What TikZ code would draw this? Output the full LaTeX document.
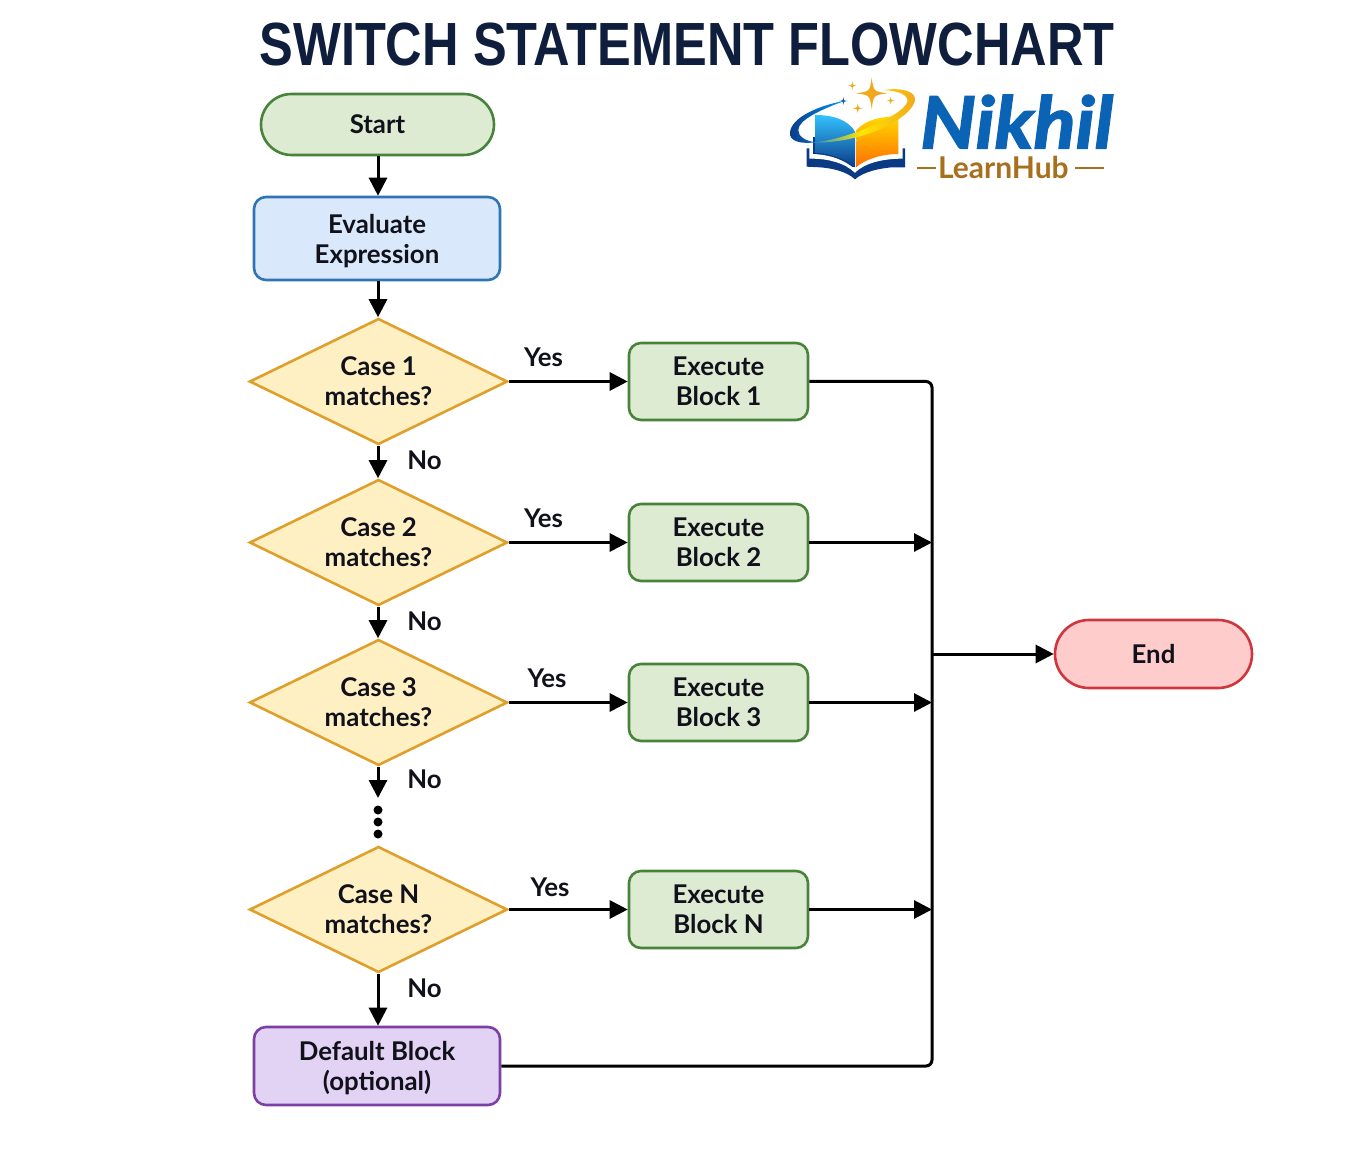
\documentclass[tikz,border=0pt]{standalone}
\usepackage{fontspec}
\usetikzlibrary{arrows.meta,shapes.geometric,shapes.misc}
\setmainfont{Lato}
\newfontfamily\titlefont[FakeStretch=0.829]{Liberation Sans}
\newfontfamily\nikfont[FakeBold=2.2,FakeStretch=1.08]{Lato}
\definecolor{ink}{HTML}{10111A}
\definecolor{titleink}{HTML}{0E1E3C}
\definecolor{greenfill}{HTML}{DDEBD3}
\definecolor{greenline}{HTML}{47843A}
\definecolor{bluefill}{HTML}{DAE8FC}
\definecolor{blueline}{HTML}{2E75B6}
\definecolor{yellowfill}{HTML}{FFF0C4}
\definecolor{yellowline}{HTML}{DF9F2B}
\definecolor{purplefill}{HTML}{E2D3F4}
\definecolor{purpleline}{HTML}{7B3FA5}
\definecolor{redfill}{HTML}{FFCCCC}
\definecolor{redline}{HTML}{D0343C}
\definecolor{logoblue}{HTML}{0B63B5}
\definecolor{logodark}{HTML}{0B3A85}
\definecolor{logogold}{HTML}{F2A81D}
\definecolor{logobrown}{HTML}{A8701E}
\tikzset{
  base/.style={draw,line width=1.3pt,inner sep=0pt,align=center,text=ink,
    font=\fontsize{12.9}{15}\selectfont\bfseries},
  pill/.style={base,rounded rectangle},
  startnode/.style={pill,fill=greenfill,draw=greenline,minimum width=116.5pt,minimum height=30.5pt},
  endnode/.style={pill,fill=redfill,draw=redline,minimum width=98.5pt,minimum height=34pt},
  evalbox/.style={base,rounded corners=6pt,fill=bluefill,draw=blueline,minimum width=123pt,minimum height=41.5pt},
  execbox/.style={base,rounded corners=6pt,fill=greenfill,draw=greenline,minimum width=89.5pt,minimum height=38.5pt},
  defbox/.style={base,rounded corners=6pt,fill=purplefill,draw=purpleline,minimum width=123pt,minimum height=39pt},
  casenode/.style={base,diamond,shape aspect=2,fill=yellowfill,draw=yellowline,minimum width=129pt,minimum height=63pt},
  lbl/.style={inner sep=0pt,text=ink,font=\fontsize{12.9}{15}\selectfont\bfseries},
  conn/.style={line width=1.5pt,draw=black},
  arr/.style={conn,-{Triangle[length=9pt,width=9pt]}},
  dotmark/.style={circle,fill=black,inner sep=0pt,minimum size=4.5pt},
}
\newcommand{\lgstar}[4]{\fill[#4] (#1,#2-#3) .. controls (#1+.12*#3,#2-.12*#3) .. (#1+#3,#2) .. controls (#1+.12*#3,#2+.12*#3) .. (#1,#2+#3) .. controls (#1-.12*#3,#2+.12*#3) .. (#1-#3,#2) .. controls (#1-.12*#3,#2-.12*#3) .. cycle;}
\begin{document}
\begin{tikzpicture}[x=0.5pt,y=-0.5pt]
\useasboundingbox (0,0) rectangle (1369,1149);
\fill[white] (0,0) rectangle (1369,1149);
\node[inner sep=0pt,text=titleink,font=\titlefont\fontsize{30.5}{34}\selectfont\bfseries] (title) at (687,45) {SWITCH STATEMENT FLOWCHART};
% nodes
\node[startnode] (start) at (377.5,124.5) {Start};
\node[evalbox] (eval) at (377,238.5) {\rule{0pt}{12.2pt}Evaluate\\Expression};
\node[casenode] (c1) at (378.5,381.5) {Case 1\\matches?};
\node[casenode] (c2) at (378.5,542.5) {Case 2\\matches?};
\node[casenode] (c3) at (378.5,702.5) {Case 3\\matches?};
\node[casenode] (cn) at (378.5,909.5) {Case N\\matches?};
\node[execbox] (x1) at (718.5,381.5) {Execute\\Block 1};
\node[execbox] (x2) at (718.5,542.5) {Execute\\Block 2};
\node[execbox] (x3) at (718.5,702.5) {Execute\\Block 3};
\node[execbox] (xn) at (718.5,909.5) {Execute\\Block N};
\node[defbox] (def) at (377,1066) {\rule{0pt}{11.2pt}Default Block\\(optional)};
\node[endnode] (end) at (1153.5,654) {End};
\node[dotmark] (d1) at (378,810) {};
\node[dotmark] (d2) at (378,822) {};
\node[dotmark] (d3) at (378,834) {};
\coordinate (bus) at (932,654);
\coordinate (dotstop) at (378,798);
% connectors
\draw[arr] (start.south -| dotstop) -- (eval.north -| dotstop);
\draw[arr] (eval.south -| dotstop) -- (c1.north -| dotstop);
\draw[arr] (c1.south -| dotstop) -- (c2.north -| dotstop);
\draw[arr] (c2.south -| dotstop) -- (c3.north -| dotstop);
\draw[arr] (c3.south -| dotstop) -- (dotstop);
\draw[arr] (cn.south -| dotstop) -- (def.north -| dotstop);
\draw[arr] (c1) -- (x1.west |- c1);
\draw[arr] (c2) -- (x2.west |- c2);
\draw[arr] (c3) -- (x3.west |- c3);
\draw[arr] (cn) -- (xn.west |- cn);
\draw[conn,rounded corners=3pt] (x1.east |- c1) -| (bus) |- (def.east);
\draw[arr] (x2.east |- c2) -- (bus |- c2);
\draw[arr] (x3.east |- c3) -- (bus |- c3);
\draw[arr] (xn.east |- cn) -- (bus |- cn);
\draw[arr] (bus) -- (end);
% labels
\node[lbl] (y1) at (543.5,357) {Yes};
\node[lbl] (y2) at (543.5,518) {Yes};
\node[lbl] (y3) at (547,678) {Yes};
\node[lbl] (yn) at (550,887) {Yes};
\node[lbl] (n1) at (424.5,460) {No};
\node[lbl] (n2) at (424.5,621) {No};
\node[lbl] (n3) at (424.5,779) {No};
\node[lbl] (nn) at (424.5,988) {No};
% logo
\begin{scope}[shift={(770,70)},x=0.16667pt,y=-0.16667pt]
  \fill[logodark] (110,235) -- (110,290) -- (150,292) .. controls (190,295) and (230,305) .. (255,328) .. controls (280,305) and (330,295) .. (365,292) -- (405,292) -- (405,235) -- cycle;
  \fill[white] (118,170) -- (118,266) .. controls (170,266) and (225,278) .. (255,308) .. controls (285,278) and (340,266) .. (398,266) -- (398,150) -- cycle;
  \fill[logodark] (128,200) rectangle (255,290);
  \shade[top color=cyan!70!blue!80,bottom color=logodark] (135,135) .. controls (190,135) and (235,150) .. (255,185) -- (255,292) .. controls (225,266) and (180,250) .. (135,248) -- cycle;
  \fill[white] (128,252) .. controls (180,254) and (225,270) .. (255,298) -- (255,308) .. controls (225,278) and (170,266) .. (128,266) -- cycle;
  \shade[top color=yellow!70!orange,bottom color=orange!85!red] (260,180) .. controls (285,150) and (335,138) .. (385,140) -- (385,252) .. controls (335,252) and (285,268) .. (258,292) -- cycle;
  \shade[left color=logodark,right color=cyan!60!blue] (60,195) .. controls (55,150) and (130,110) .. (225,92) .. controls (150,120) and (85,150) .. (85,180) .. controls (85,200) and (105,212) .. (135,217) .. controls (95,222) and (65,215) .. (60,195) -- cycle;
  \shade[left color=cyan!50!blue,right color=logogold,middle color=yellow!80!orange] (105,218) .. controls (200,222) and (400,140) .. (412,95) .. controls (416,75) and (385,62) .. (340,60) .. controls (385,53) and (430,60) .. (435,85) .. controls (440,130) and (300,225) .. (105,218) -- cycle;
  \lgstar{305}{70}{47}{logogold}
  \lgstar{247}{47}{13}{logogold}
  \lgstar{263}{115}{15}{logogold}
  \lgstar{362}{92}{11}{logogold}
  \lgstar{220}{93}{12}{logoblue}
  \node[inner sep=0pt,text=logoblue,font=\nikfont\fontsize{36}{40}\selectfont\bfseries\itshape] (nik) at (740,155) {Nikhil};
  \node[inner sep=0pt,text=logobrown,font=\fontsize{15}{15}\selectfont\bfseries] (hub) at (700,292) {LearnHub};
  \coordinate (hl1) at (440,293); \coordinate (hl2) at (498,293);
  \coordinate (hr1) at (915,293); \coordinate (hr2) at (1002,293);
  \draw[logobrown,line width=1pt] (hl1) -- (hl2);
  \draw[logobrown,line width=1pt] (hr1) -- (hr2);
\end{scope}
\end{tikzpicture}
\end{document}
